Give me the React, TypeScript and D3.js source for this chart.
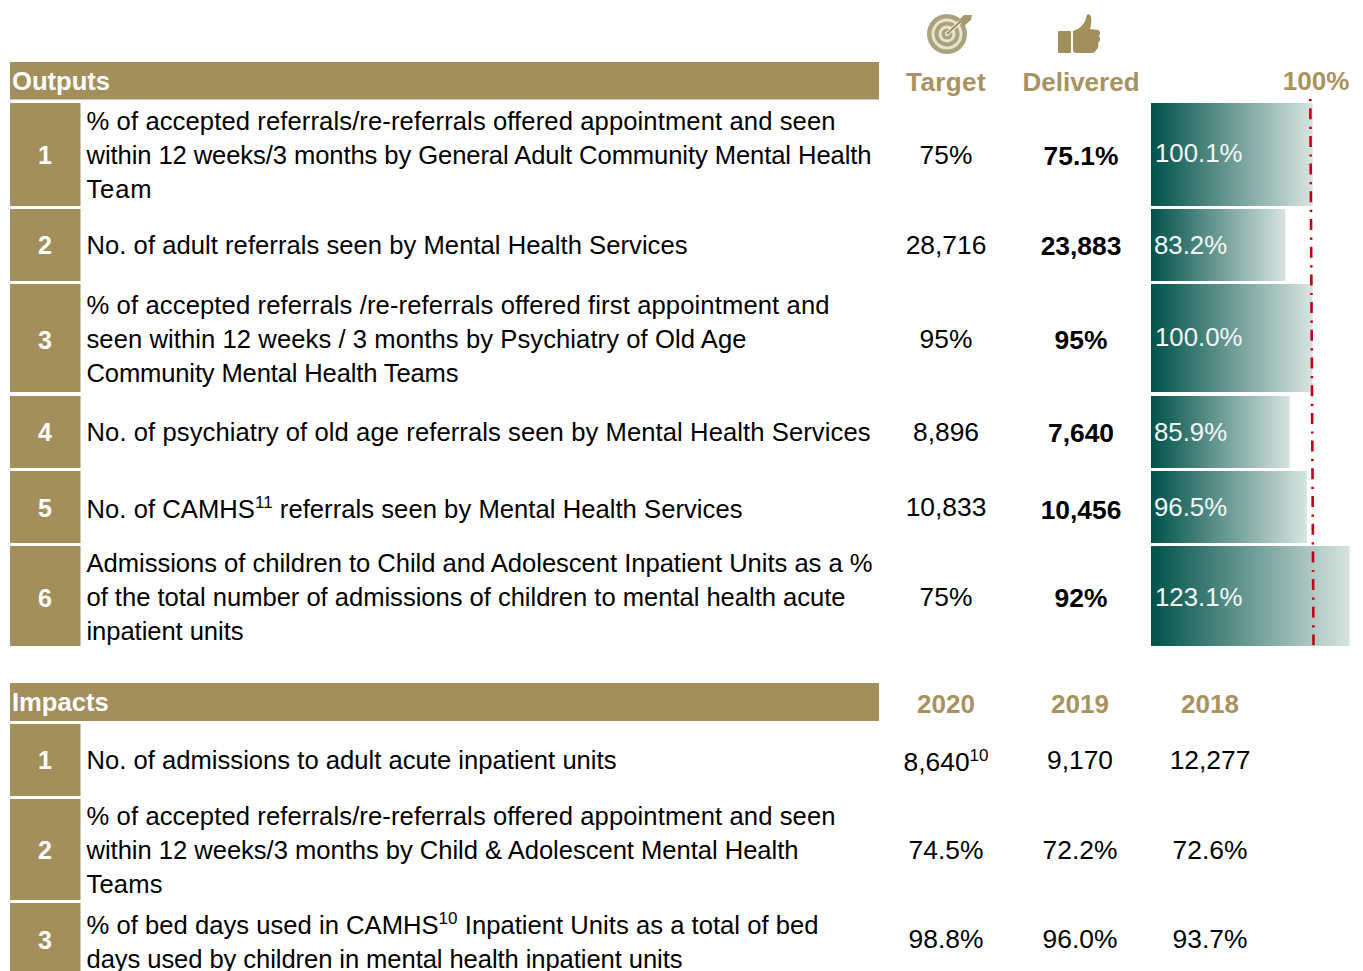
import React from "react";
import * as d3 from "d3";

const outputLabels = [
  ["% of accepted referrals/re-referrals offered appointment and seen", "within 12 weeks/3 months by General Adult Community Mental Health", "Team"],
  ["No. of adult referrals seen by Mental Health Services"],
  ["% of accepted referrals /re-referrals offered first appointment and", "seen within 12 weeks / 3 months by Psychiatry of Old Age", "Community Mental Health Teams"],
  ["No. of psychiatry of old age referrals seen by Mental Health Services"],
  ["No. of CAMHS^11^ referrals seen by Mental Health Services"],
  ["Admissions of children to Child and Adolescent Inpatient Units as a %", "of the total number of admissions of children to mental health acute", "inpatient units"],
];
const targets = ["75%", "28,716", "95%", "8,896", "10,833", "75%"];
const delivered = ["75.1%", "23,883", "95%", "7,640", "10,456", "92%"];
const achieved = [100.1, 83.2, 100.0, 85.9, 96.5, 123.1];

const impactLabels = [
  ["No. of admissions to adult acute inpatient units"],
  ["% of accepted referrals/re-referrals offered appointment and seen", "within 12 weeks/3 months by Child & Adolescent Mental Health", "Teams"],
  ["% of bed days used in CAMHS^10^ Inpatient Units as a total of bed", "days used by children in mental health inpatient units"],
];
const impactYears = ["2020", "2019", "2018"];
const impact2020 = ["8,640^10^", "74.5%", "98.8%"];
const impact2019 = ["9,170", "72.2%", "96.0%"];
const impact2018 = ["12,277", "72.6%", "93.7%"];

// row boxes and line widths
const outputTops = [103, 209, 284, 396, 471, 546];
const outputBottoms = [206, 281, 392, 468, 543, 646];
const outputWidths = [[749, 785, 65], [601], [743, 660, 372], [784], [656], [786, 759, 157]];
const impactTops = [724, 799, 903];
const impactBottoms = [796, 900, 990];
const impactWidths = [[530], [749, 712, 76], [732, 596]];
const LINE = 34;
const GOLD = "#a38f5c";
const GOLD_TEXT = "#a8935f";
const FONT = "'Liberation Sans', Arial, sans-serif";
const SIZE = 26.4;
const LABEL_SIZE = 25.6;

const xBar = d3.scaleLinear().domain([0, 100]).range([1151, 1312.5]);

function Rich({ s, x, y, anchor, weight, fill, size, length }: any) {
  const parts = s.split("^");
  const base = size || SIZE;
  let pending = 0;
  return (
    <text x={x} y={y} textAnchor={anchor || "start"} fontWeight={weight || "normal"} fill={fill || "#000"} fontSize={base} textLength={length} lengthAdjust="spacing">
      {parts.map((p: string, i: number) => {
        if (!p) return null;
        const sup = i % 2 === 1;
        const dy = sup ? -10 : pending;
        pending = sup ? 10 : 0;
        return (
          <tspan key={i} dy={dy} fontSize={sup ? 17 : base}>
            {p}
          </tspan>
        );
      })}
    </text>
  );
}

function Rows({ labels, tops, bottoms, centers, numbers, widths }: any) {
  return labels.map((lines: string[], i: number) => {
    const first = centers[i] - ((lines.length - 1) * LINE) / 2;
    return (
      <g key={i}>
        <rect x={10} y={tops[i]} width={70.5} height={bottoms[i] - tops[i]} fill={GOLD} />
        <text x={45} y={numbers[i] + 9} textAnchor="middle" fontWeight="bold" fill="#fff" fontSize={25}>
          {i + 1}
        </text>
        {lines.map((l, j) => (
          <Rich key={j} s={l} x={86.5} y={first + j * LINE + 9} size={LABEL_SIZE} length={widths[i][j]} />
        ))}
      </g>
    );
  });
}

function TargetIcon() {
  const c = "#a9a27f";
  const light = "#e9e3ca";
  return (
    <g transform="translate(947,34)">
      <circle r={20} fill={c} />
      <circle r={15.5} fill={light} />
      <circle r={12.5} fill={c} />
      <circle r={8.5} fill={light} />
      <circle r={5.5} fill={c} />
      <circle r={2.2} fill={light} />
      <path d="M0,0 L14,-13" stroke="#f5f1e3" strokeWidth={4} />
      <path d="M0,0 L15,-14" stroke={GOLD} strokeWidth={2} />
      <path d="M11,-13 L17,-19 L25,-19 L24,-14 L17,-8 Z" fill="#a89a6e" />
    </g>
  );
}

function ThumbIcon() {
  return (
    <g fill={GOLD}>
      <rect x={1058} y={31} width={13} height={22} rx={1} />
      <path d="M1073,31 C1080,29 1084,24 1086,19 C1086,13 1090,13 1091,17 C1092,21 1091,25 1090,29 L1098,30 C1101,31 1100,35 1099,36 C1101,38 1100,42 1098,43 C1099,46 1098,49 1096,50 C1095,53 1093,53 1090,53 L1077,53 C1074,53 1073,52 1073,50 Z" />
    </g>
  );
}

export default function App() {
  const outputMids = [155, 245, 339, 432, 509, 597];
  const outputNumbers = [155, 245, 340, 432, 508, 598];
  const impactMids = [760, 850, 942];
  const impactNumbers = [760, 850, 940];
  return (
    <svg width={1363} height={971} style={{ position: "absolute", left: 0, top: 0, background: "#fff" }} fontFamily={FONT}>
      <defs>
        <linearGradient id="fade" x1="0" x2="1" y1="0" y2="0">
          <stop offset="0" stopColor="#00524a" />
          <stop offset="1" stopColor="#d8e4e0" />
        </linearGradient>
      </defs>

      <TargetIcon />
      <ThumbIcon />

      <rect x={10} y={62} width={869} height={37.5} fill={GOLD} />
      <text x={12} y={90} fontWeight="bold" fill="#fff" fontSize={25.6}>Outputs</text>
      <text x={946} y={91} textAnchor="middle" fontWeight="bold" fill={GOLD_TEXT} fontSize={26} letterSpacing={0.4}>Target</text>
      <text x={1081} y={91} textAnchor="middle" fontWeight="bold" fill={GOLD_TEXT} fontSize={26}>Delivered</text>
      <text x={1316} y={90} textAnchor="middle" fontWeight="bold" fill={GOLD_TEXT} fontSize={26}>100%</text>

      <Rows labels={outputLabels} tops={outputTops} bottoms={outputBottoms} centers={outputMids} numbers={outputNumbers} widths={outputWidths} />
      {achieved.map((v, i) => (
        <g key={i}>
          <rect x={xBar(0)} y={outputTops[i]} width={xBar(v) - xBar(0)} height={outputBottoms[i] - outputTops[i]} fill="url(#fade)" />
          <text x={xBar(0) + (v >= 100 ? 4 : 3)} y={[162, 254, 346, 441, 516, 606][i]} fill="#f4f7f6" fontSize={25.8}>
            {d3.format(".1f")(v)}%
          </text>
          <Rich s={targets[i]} x={946} y={[164, 254, 348, 441, 516, 606][i]} anchor="middle" />
          <Rich s={delivered[i]} x={1081} y={outputMids[i] + 10} anchor="middle" weight="bold" />
        </g>
      ))}
      <line x1={1310.3} y1={99} x2={1313.5} y2={645} stroke="#c00018" strokeWidth={2.6} strokeDasharray="2.2 7 11 7.5" />

      <rect x={10} y={683} width={869} height={38} fill={GOLD} />
      <text x={12} y={711} fontWeight="bold" fill="#fff" fontSize={25.6}>Impacts</text>
      {impactYears.map((y, i) => (
        <text key={y} x={[946, 1080, 1210][i]} y={713} textAnchor="middle" fontWeight="bold" fill={GOLD_TEXT} fontSize={26}>{y}</text>
      ))}
      <Rows labels={impactLabels} tops={impactTops} bottoms={impactBottoms} centers={impactMids} numbers={impactNumbers} widths={impactWidths} />
      {impactLabels.map((_, i) => (
        <g key={i}>
          <Rich s={impact2020[i]} x={946} y={[771, 859, 948][i]} anchor="middle" />
          <Rich s={impact2019[i]} x={1080} y={[769, 859, 948][i]} anchor="middle" />
          <Rich s={impact2018[i]} x={1210} y={[769, 859, 948][i]} anchor="middle" />
        </g>
      ))}
    </svg>
  );
}
